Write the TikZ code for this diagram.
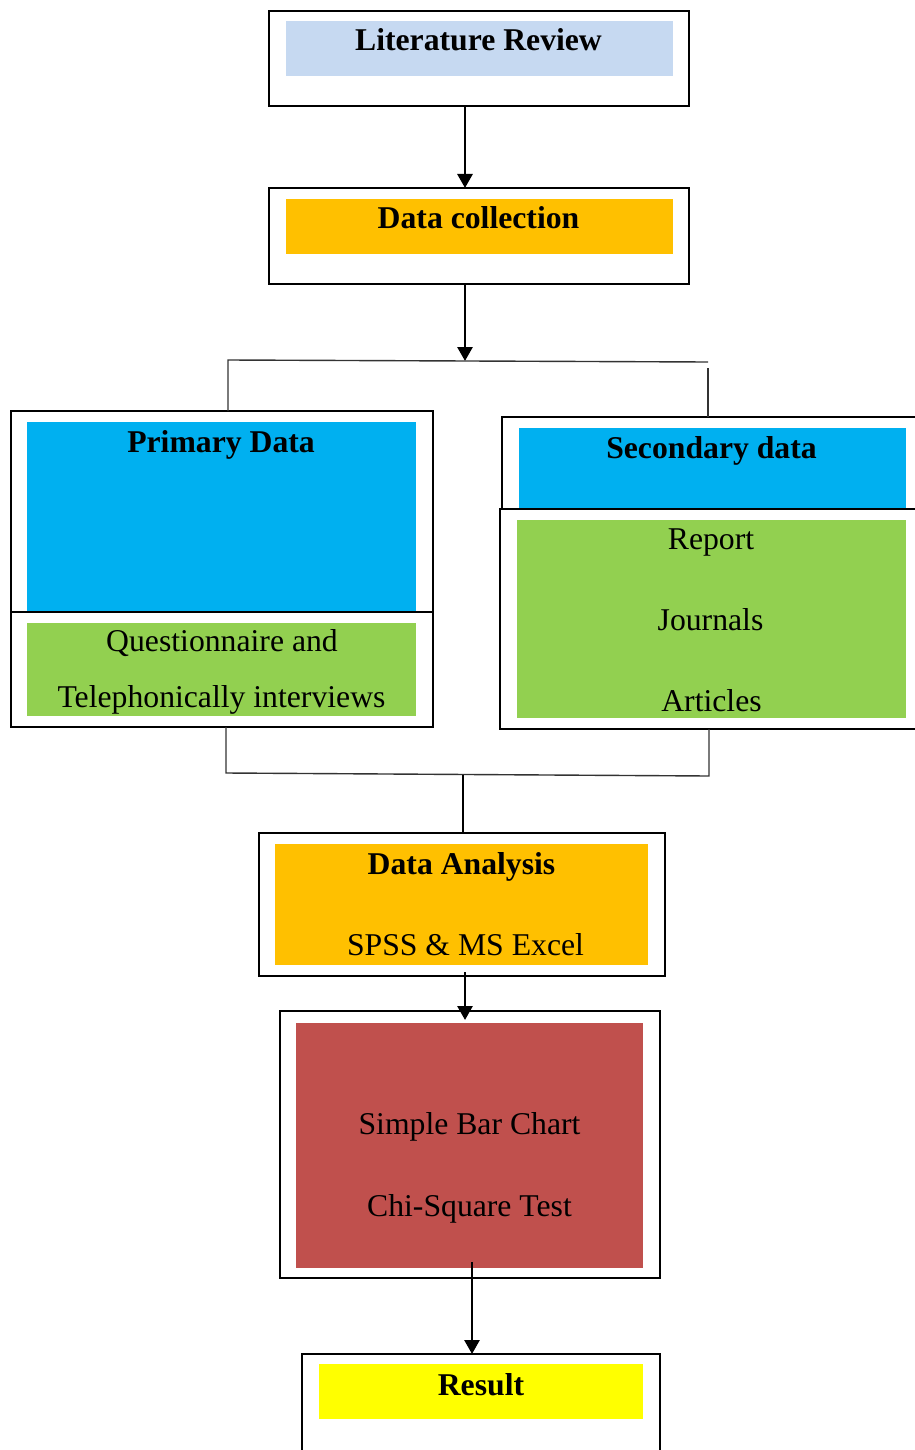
\documentclass[tikz,border=0pt]{standalone}
\usepackage{fontspec}
\setmainfont{Liberation Serif}
\usetikzlibrary{arrows.meta,calc}
\definecolor{lblue}{HTML}{C6D9F1}
\definecolor{orng}{HTML}{FFC000}
\definecolor{cyanb}{HTML}{00B0F0}
\definecolor{grn}{HTML}{92D050}
\definecolor{redb}{HTML}{C0504D}
\definecolor{yel}{HTML}{FFFF00}
\definecolor{conn}{HTML}{333333}
\begin{document}
\begin{tikzpicture}[x=1pt,y=-1pt,
  obox/.style={draw=black,line width=2.8pt,rectangle,inner sep=0pt,outer sep=0pt},
  fbox/.style={rectangle,draw=none,inner sep=0pt,outer sep=0pt},
  txt/.style={anchor=base,inner sep=0pt,font=\fontsize{31.7}{38}\selectfont},
  btxt/.style={txt,font=\fontsize{31.7}{38}\selectfont\bfseries},
  arr/.style={line width=2.8pt,-{Triangle[length=14pt,width=15pt]}},
  thinc/.style={draw=conn,line width=1.4pt},
  thickc/.style={draw=black,line width=2.4pt}]
\useasboundingbox (0,0) rectangle (914,1450);
% outer boxes
\node[obox,minimum width=420,minimum height=95] (lr) at (479,58.5) {};
\node[obox,minimum width=420,minimum height=96] (dc) at (479,236) {};
\node[obox,minimum width=422,minimum height=201] (pt) at (222,511.5) {};
\node[obox,minimum width=422,minimum height=115] (pb) at (222,669.5) {};
\node[obox,minimum width=422,minimum height=92] (st) at (713,463) {};
\node[obox,minimum width=424,minimum height=220] (sb) at (712,619) {};
\node[obox,minimum width=406,minimum height=143] (da) at (462,904.5) {};
\node[obox,minimum width=380,minimum height=267] (rb) at (470,1144.5) {};
\node[obox,minimum width=358,minimum height=106] (rs) at (481,1407) {};
% fills
\node[fbox,fill=lblue,minimum width=387,minimum height=55] (lrf) at (479.5,48.5) {};
\node[fbox,fill=orng,minimum width=387,minimum height=55] (dcf) at (479.5,226.5) {};
\node[fbox,fill=cyanb,minimum width=389,minimum height=189] (ptf) at (221.5,516.5) {};
\node[fbox,fill=grn,minimum width=389,minimum height=93] (pbf) at (221.5,669.5) {};
\node[fbox,fill=cyanb,minimum width=387,minimum height=80] (stf) at (712.5,468) {};
\node[fbox,fill=grn,minimum width=389,minimum height=198] (sbf) at (711.5,619) {};
\node[fbox,fill=orng,minimum width=373,minimum height=121] (daf) at (461.5,904.5) {};
\node[fbox,fill=redb,minimum width=347,minimum height=245] (rbf) at (469.5,1145.5) {};
\node[fbox,fill=yel,minimum width=324,minimum height=55] (rsf) at (481,1391.5) {};
% texts
\node[btxt] (t1) at (478.5,51) {Literature Review};
\node[btxt] (t2) at (478.5,229) {Data collection};
\node[btxt] (t3) at (221,452) {Primary Data};
\node[txt] (t4) at (222,651.5) {Questionnaire and};
\node[txt] (t5) at (221.5,707) {Telephonically interviews};
\node[btxt] (t6) at (711.5,458) {Secondary data};
\node[txt] (t7) at (711,549) {Report};
\node[txt] (t8) at (710.5,630) {Journals};
\node[txt] (t9) at (711.5,711.5) {Articles};
\node[btxt] (t10) at (461.5,874) {Data Analysis};
\node[txt] (t11) at (465.5,955) {SPSS \& MS Excel};
\node[txt] (t12) at (469.5,1134) {Simple Bar Chart};
\node[txt] (t13) at (469.5,1216) {Chi-Square Test};
\node[btxt] (t14) at (481,1395) {Result};
% connectors
\coordinate (j1) at (465,361);
\coordinate (hl) at (228,360);
\coordinate (hr) at (708,362);
\coordinate (hr2) at (708,368);
\coordinate (bl) at (226,773);
\coordinate (br) at (709,776);
\coordinate (j2) at (463,774.5);
\coordinate (a3) at (465,0);
\coordinate (a4) at (472,0);
\draw[arr] (lr.south -| j1) -- (dc.north -| j1);
\draw[arr] (dc.south -| j1) -- (j1);
\draw[thinc] (pt.north -| hl) -- (hl) -- (hr);
\draw[thinc] (hr2) -- (st.north -| hr2);
\draw[thinc] (pb.south -| bl) -- (bl) -- (br) -- (sb.south -| br);
\draw[thickc] (j2) -- (da.north -| j2);
\draw[arr] ($(da.south -| a3)+(0,-4)$) -- ($(rb.north -| a3)+(0,9)$);
\draw[arr] ($(rbf.south -| a4)+(0,-6)$) -- (rs.north -| a4);
\end{tikzpicture}
\end{document}
